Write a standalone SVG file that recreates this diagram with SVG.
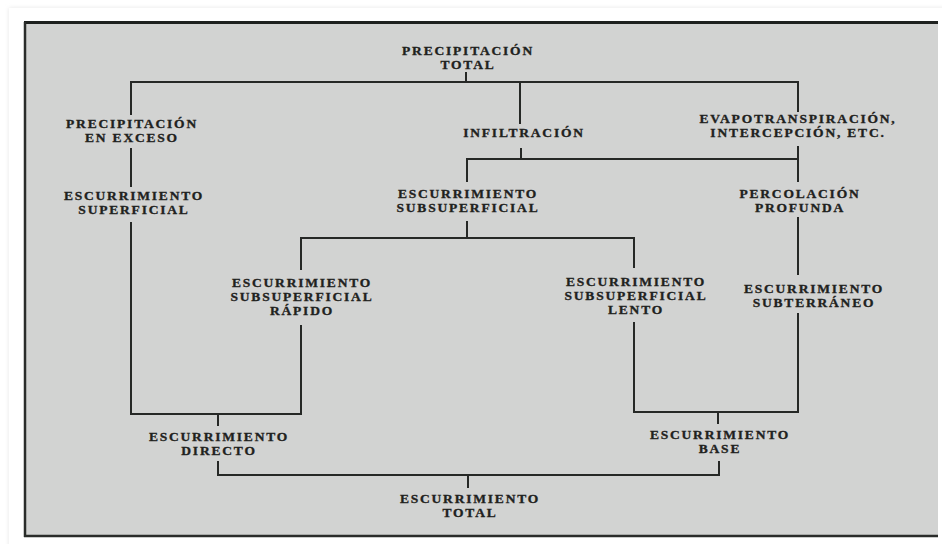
<svg xmlns="http://www.w3.org/2000/svg" width="942" height="544" viewBox="0 0 942 544">
  <defs>
    <style>
      .lbl { font-family: "Liberation Serif", "Times New Roman", serif; font-weight: bold; font-size: 13.5px; letter-spacing: 1.8px; fill: #1f2220; stroke: #1f2220; stroke-width: 0.35px; text-anchor: middle; }
      .con { fill: none; stroke: #262826; stroke-width: 2; }
    </style>
    <filter id="sh" x="-5%" y="-5%" width="110%" height="110%">
      <feGaussianBlur stdDeviation="2"/>
    </filter>
  </defs>
  <rect x="0" y="0" width="942" height="544" fill="#ffffff"/>
  <rect x="9" y="8" width="940" height="540" fill="#e6e6e6" filter="url(#sh)"/>
  <rect x="9" y="8" width="940" height="540" fill="#ffffff"/>
  <g id="panel">
    <rect x="24" y="22" width="914" height="514" fill="#d2d3d2"/>
    <line x1="24" y1="22.5" x2="938" y2="22.5" stroke="#1e211f" stroke-width="3"/>
    <line x1="25" y1="22" x2="25" y2="537" stroke="#2a2c2a" stroke-width="2.5"/>
    <line x1="24" y1="536" x2="938" y2="536" stroke="#2a2c2a" stroke-width="2.5"/>
  </g>
  <g id="connectors">
    <path class="con" d="M466 72 V82"/>
    <path class="con" d="M131 115 V82 H798 V112"/>
    <path class="con" d="M520 82 V124"/>
    <path class="con" d="M131 148 V187"/>
    <path class="con" d="M131 222 V414 H301 V325"/>
    <path class="con" d="M218 414 V426"/>
    <path class="con" d="M521 148 V159"/>
    <path class="con" d="M467 182 V159 H798"/>
    <path class="con" d="M798 146 V182"/>
    <path class="con" d="M467 221 V238"/>
    <path class="con" d="M301 270 V238 H634 V268"/>
    <path class="con" d="M798 217 V275"/>
    <path class="con" d="M634 322 V412 H798 V313"/>
    <path class="con" d="M718 412 V424"/>
    <path class="con" d="M218 461 V475 H719 V461"/>
    <path class="con" d="M468 475 V488"/>
  </g>
  <g id="precipitacion-total"><text class="lbl" x="468" y="55">PRECIPITACIÓN</text><text class="lbl" x="468" y="69">TOTAL</text></g>
  <g id="precipitacion-exceso"><text class="lbl" x="132" y="128">PRECIPITACIÓN</text><text class="lbl" x="132" y="142">EN EXCESO</text></g>
  <g id="infiltracion"><text class="lbl" x="524" y="137">INFILTRACIÓN</text></g>
  <g id="evapotranspiracion"><text class="lbl" x="798" y="123">EVAPOTRANSPIRACIÓN,</text><text class="lbl" x="798" y="137">INTERCEPCIÓN, ETC.</text></g>
  <g id="escurrimiento-superficial"><text class="lbl" x="134" y="200">ESCURRIMIENTO</text><text class="lbl" x="134" y="214">SUPERFICIAL</text></g>
  <g id="escurrimiento-subsuperficial"><text class="lbl" x="468" y="198">ESCURRIMIENTO</text><text class="lbl" x="468" y="212">SUBSUPERFICIAL</text></g>
  <g id="percolacion-profunda"><text class="lbl" x="800" y="198">PERCOLACIÓN</text><text class="lbl" x="800" y="212">PROFUNDA</text></g>
  <g id="subsuperficial-rapido"><text class="lbl" x="302" y="287">ESCURRIMIENTO</text><text class="lbl" x="302" y="301">SUBSUPERFICIAL</text><text class="lbl" x="302" y="315">RÁPIDO</text></g>
  <g id="subsuperficial-lento"><text class="lbl" x="636" y="286">ESCURRIMIENTO</text><text class="lbl" x="636" y="300">SUBSUPERFICIAL</text><text class="lbl" x="636" y="314">LENTO</text></g>
  <g id="escurrimiento-subterraneo"><text class="lbl" x="814" y="293">ESCURRIMIENTO</text><text class="lbl" x="814" y="307">SUBTERRÁNEO</text></g>
  <g id="escurrimiento-directo"><text class="lbl" x="219" y="441">ESCURRIMIENTO</text><text class="lbl" x="219" y="455">DIRECTO</text></g>
  <g id="escurrimiento-base"><text class="lbl" x="720" y="439">ESCURRIMIENTO</text><text class="lbl" x="720" y="453">BASE</text></g>
  <g id="escurrimiento-total"><text class="lbl" x="470" y="503">ESCURRIMIENTO</text><text class="lbl" x="470" y="517">TOTAL</text></g>
</svg>
